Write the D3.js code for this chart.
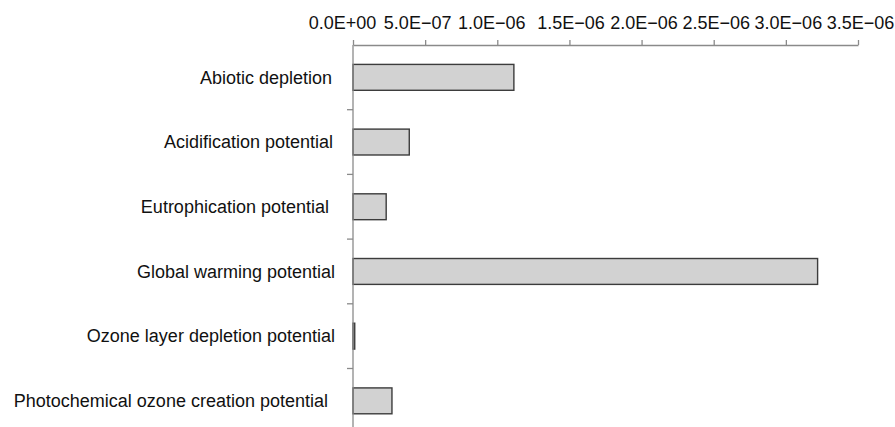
<!DOCTYPE html>
<html>
<head>
<meta charset="utf-8">
<script src="https://cdn.jsdelivr.net/npm/d3@7"></script>
<style>
  body { margin: 0; background: #fff; }
  svg { display: block; font-family: "Liberation Sans", Arial, sans-serif; }
</style>
</head>
<body>
<div id="chart"></div>
<script>
// DATA
const categories = [
    "Abiotic depletion",
    "Acidification potential",
    "Eutrophication potential",
    "Global warming potential",
    "Ozone layer depletion potential",
    "Photochemical ozone creation potential"
];
const values = [1.115e-6, 3.9e-7, 2.3e-7, 3.22e-6, 1.2e-8, 2.7e-7];
const tickValues = [0, 5e-7, 1e-6, 1.5e-6, 2e-6, 2.5e-6, 3e-6, 3.5e-6];
const tickLabels = ["0.0E+00", "5.0E\u221207", "1.0E\u221206", "1.5E\u221206",
    "2.0E\u221206", "2.5E\u221206", "3.0E\u221206", "3.5E\u221206"];

const W = 895, H = 427;
const margin = { top: 45, left: 353 };
// the first few tick labels sit a bit left of their ticks in the original
const tickLabelShift = [-11, -8, -6, 1, 2, 2, 2, 2];
const labelEnd = [332, 333, 329, 335, 335, 328];

const svg = d3.select("#chart").append("svg")
    .attr("width", W)
    .attr("height", H);

const xScale = d3.scaleLinear()
    .domain([0, 3.5e-6])
    .range([margin.left, 858]);

const yScale = d3.scaleBand()
    .domain(categories)
    .range([margin.top, margin.top + 64.7 * categories.length])
    .paddingInner(0.6)
    .paddingOuter(0.3);

// bars
svg.selectAll(".bar")
    .data(categories)
    .join("rect")
    .attr("class", "bar")
    .attr("x", xScale(0))
    .attr("y", d => yScale(d))
    .attr("width", (d, i) => xScale(values[i]) - xScale(0))
    .attr("height", yScale.bandwidth())
    .attr("fill", "#d2d2d2")
    .attr("stroke", "#3c3c3c")
    .attr("stroke-width", 1.4);

// X axis on top
const xAxis = d3.axisTop(xScale)
    .tickValues(tickValues)
    .tickFormat((d, i) => tickLabels[i])
    .tickSizeInner(5)
    .tickSizeOuter(0)
    .tickPadding(11);

const gx = svg.append("g")
    .attr("transform", `translate(0,${margin.top})`)
    .call(xAxis);
gx.attr("font-size", null).attr("font-family", null);
gx.select(".domain").attr("stroke", "#8a8a8a").attr("stroke-width", 1.3);
gx.selectAll(".tick line").attr("stroke", "#8a8a8a").attr("stroke-width", 1.3);
gx.selectAll(".tick text")
    .attr("fill", "#111")
    .attr("dx", (d, i) => tickLabelShift[i])
    .style("font-size", "18px");

// Y axis: vertical line with separator ticks between categories
const step = yScale.step();
const sepY = d3.range(1, categories.length).map(i => margin.top + step * i);

svg.append("line")
    .attr("x1", xScale(0)).attr("x2", xScale(0))
    .attr("y1", margin.top).attr("y2", H)
    .attr("stroke", "#8a8a8a")
    .attr("stroke-width", 1.3);

svg.selectAll(".sep")
    .data(sepY)
    .join("line")
    .attr("class", "sep")
    .attr("x1", xScale(0) - 6).attr("x2", xScale(0))
    .attr("y1", d => d).attr("y2", d => d)
    .attr("stroke", "#8a8a8a")
    .attr("stroke-width", 1.3);

// category labels
svg.selectAll(".cat-label")
    .data(categories)
    .join("text")
    .attr("class", "cat-label")
    .attr("x", (d, i) => labelEnd[i])
    .attr("y", d => yScale(d) + yScale.bandwidth() / 2)
    .attr("dy", "0.35em")
    .attr("text-anchor", "end")
    .attr("fill", "#111")
    .style("font-size", "18px")
    .text(d => d);
</script>
</body>
</html>
